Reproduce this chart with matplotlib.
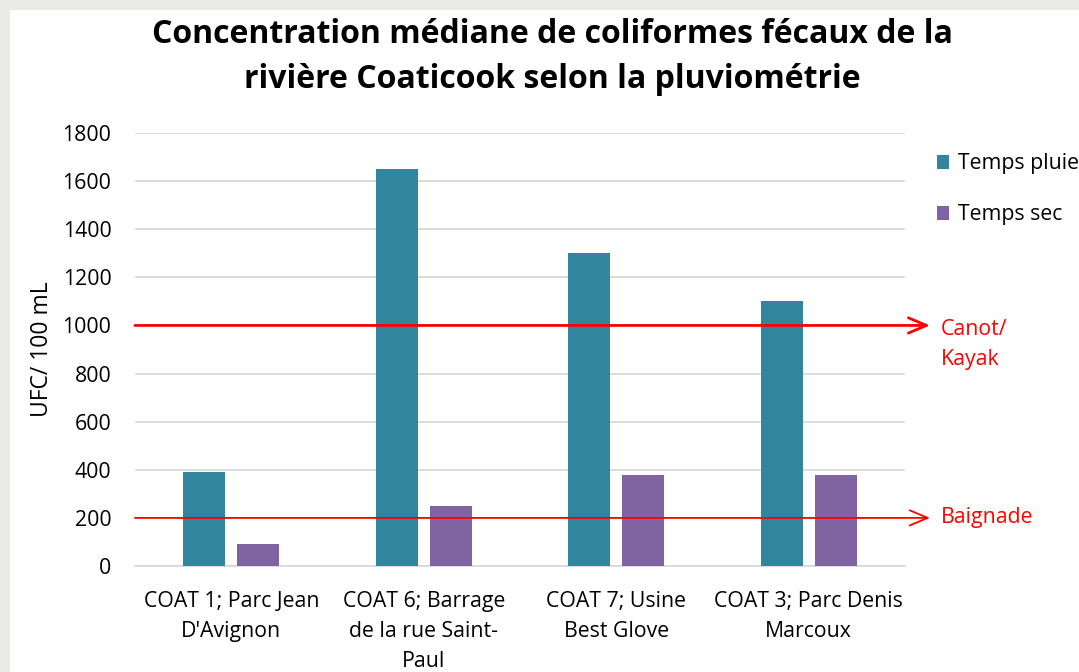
import matplotlib
matplotlib.use('Agg')
import numpy as np
import matplotlib.pyplot as plt

# data
stations = ["COAT 1; Parc Jean\nD'Avignon", "COAT 6; Barrage\nde la rue Saint-\nPaul",
            "COAT 7; Usine\nBest Glove", "COAT 3; Parc Denis\nMarcoux"]
pluie = [390, 1650, 1300, 1100]
sec = [90, 250, 380, 380]
seuils = [1000, 200]
seuil_labels = ["Canot/\nKayak", "Baignade"]
yticks = [0, 200, 400, 600, 800, 1000, 1200, 1400, 1600, 1800]

teal = '#31859c'
purple = '#8064a2'
red = '#ff0000'

plt.rcParams['font.family'] = ['Open Sans', 'DejaVu Sans']

fig = plt.figure(figsize=(10.79, 6.72), dpi=100)
fig.patch.set_facecolor('#e9e9e6')
# white slide area behind everything
bg = fig.add_axes([10/1079, 0, 1 - 10/1079, 1 - 10/672], zorder=-10)
bg.set_facecolor('white')
bg.set_xticks([])
bg.set_yticks([])
for s in bg.spines.values():
    s.set_visible(False)

ax = fig.add_axes([135/1079, 1 - 566/672, 770/1079, 433/672])
ax.set_facecolor('none')

x = np.arange(len(stations))
w = 0.218
ax.bar(x - 0.14, pluie, w, color=teal, label='Temps pluie', zorder=3)
ax.bar(x + 0.14, sec, w, color=purple, label='Temps sec', zorder=3)

fs = 15.3
ax.set_xlim(-0.5, len(stations) - 0.5)
ax.set_ylim(0, 1800)
ax.set_yticks(yticks)
ax.set_xticks(x)
ax.set_xticklabels(stations, fontsize=fs, linespacing=1.55)
ax.tick_params(axis='y', labelsize=fs, length=0, pad=17)
ax.tick_params(axis='x', length=0, pad=18)
ax.grid(axis='y', color='#d9d9d9', linewidth=1.3, zorder=0)
for s in ['top', 'right', 'left']:
    ax.spines[s].set_visible(False)
ax.spines['bottom'].set_color('#d9d9d9')
ax.spines['bottom'].set_linewidth(1.3)
ax.set_ylabel('UFC/ 100 mL', fontsize=16.5, labelpad=6)

# threshold lines with arrows
lws = [2.0, 1.3]
label_y = [922, 200]
for val, lab, lw, ly in zip(seuils, seuil_labels, lws, label_y):
    ax.annotate('', xy=(930/1079, val), xycoords=('figure fraction', 'data'),
                xytext=(0, val), textcoords=('axes fraction', 'data'),
                arrowprops=dict(arrowstyle='->,head_length=1.3,head_width=0.55',
                                color=red, lw=lw, shrinkA=0, shrinkB=0),
                annotation_clip=False, zorder=4)
    ax.annotate(lab, xy=(941/1079, ly), xycoords=('figure fraction', 'data'),
                color=red, fontsize=fs, va='center', ha='left', linespacing=1.55,
                annotation_clip=False)

fig.legend(loc='upper left', bbox_to_anchor=(928/1079, 1 - 145/672), frameon=False,
           fontsize=fs, handlelength=0.6, handleheight=0.6, handletextpad=0.4,
           labelspacing=1.4, borderaxespad=0)

fig.text(0.512, 1 - 57/672, 'Concentration médiane de coliformes fécaux de la\nrivière Coaticook selon la pluviométrie',
         ha='center', va='center', fontsize=23, fontweight='bold', linespacing=1.45)

fig.savefig('out.png', dpi=100, facecolor=fig.get_facecolor())
